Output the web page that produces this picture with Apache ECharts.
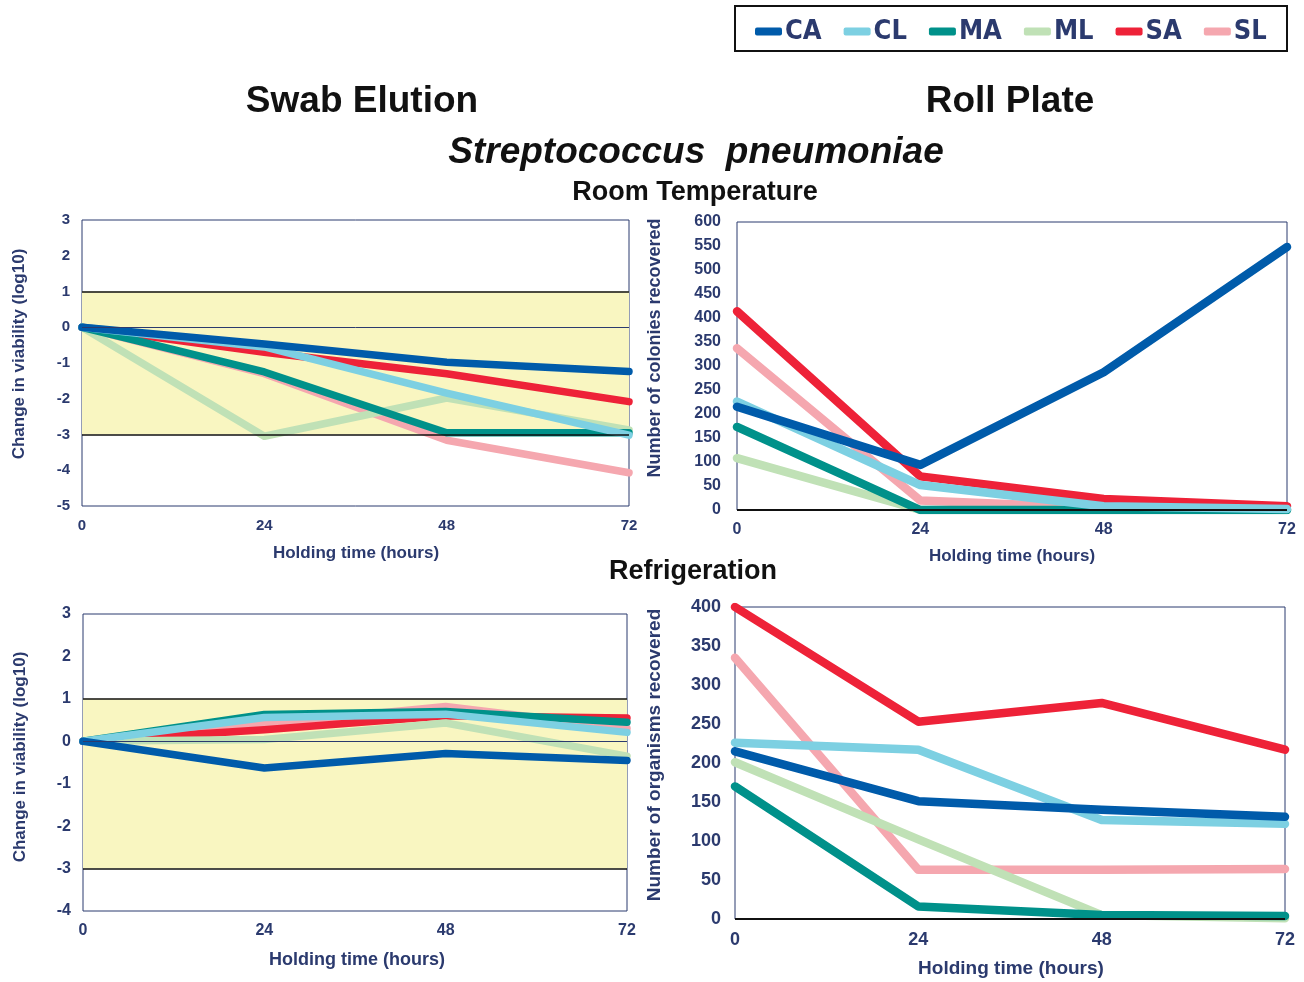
<!DOCTYPE html>
<html><head><meta charset="utf-8">
<script src="https://cdn.jsdelivr.net/npm/echarts@6/dist/echarts.min.js"></script>
<style>html,body{margin:0;background:#fff}#c{width:1304px;height:982px}</style>
</head><body><div id="c"></div>
<script>
// Holding times (hours) shared by every panel
const hours = [0, 24, 48, 72];
const seriesNames = ['CA', 'CL', 'MA', 'ML', 'SA', 'SL'];
const seriesColors = ['#005BAA', '#7DD0E2', '#00918A', '#C0E1B6', '#EE2238', '#F5A7AF'];

// Swab elution, room temperature: change in viability (log10)
const swabRoomCA = [0, -0.47, -0.98, -1.24];
const swabRoomCL = [0, -0.55, -1.84, -3.02];
const swabRoomMA = [0, -1.25, -2.95, -2.95];
const swabRoomML = [0, -3.05, -1.98, -2.87];
const swabRoomSA = [0, -0.70, -1.30, -2.08];
const swabRoomSL = [0, -1.30, -3.16, -4.07];

// Roll plate, room temperature: colonies recovered
const rollRoomCA = [215, 94, 287, 548];
const rollRoomCL = [226, 52, 8, 2];
const rollRoomMA = [173, 0, 0, 0];
const rollRoomML = [108, 0, 0, 0];
const rollRoomSA = [414, 70, 23, 8];
const rollRoomSL = [337, 20, 4, 1];

// Swab elution, refrigeration: change in viability (log10)
const swabFridgeCA = [0, -0.63, -0.29, -0.45];
const swabFridgeCL = [0, 0.56, 0.64, 0.21];
const swabFridgeMA = [0, 0.63, 0.70, 0.45];
const swabFridgeML = [0, 0.04, 0.43, -0.35];
const swabFridgeSA = [0, 0.27, 0.60, 0.55];
const swabFridgeSL = [0, 0.40, 0.82, 0.30];

// Roll plate, refrigeration: organisms recovered
const rollFridgeCA = [215, 151, 140, 131];
const rollFridgeCL = [226, 217, 127, 122];
const rollFridgeMA = [170, 16, 5, 4];
const rollFridgeML = [201, 102, 5, 1];
const rollFridgeSA = [400, 253, 277, 217];
const rollFridgeSL = [335, 63, 63, 64];

// Axis tick settings
const swabRoomTicks = {min: -5, max: 3, interval: 1};
const swabFridgeTicks = {min: -4, max: 3, interval: 1};
const rollRoomTicks = {min: 0, max: 600, interval: 50};
const rollFridgeTicks = {min: 0, max: 400, interval: 50};
const hourTicks = {min: 0, max: 72, interval: 24};

const NAVY = '#2B3A6E';
const FONT = '"Liberation Sans", Arial, sans-serif';

const panels = [
  {grid: {left: 82, top: 220, width: 547, height: 286}, ticks: swabRoomTicks, band: true,
   data: [swabRoomCA, swabRoomCL, swabRoomMA, swabRoomML, swabRoomSA, swabRoomSL],
   yName: 'Change in viability (log10)', yNameSize: 17, yNamePos: [19, 354],
   xName: 'Holding time (hours)', xNameSize: 17, xNamePos: [356, 553], tickSize: 15, yMargin: 12, lineW: 7.5},
  {grid: {left: 737, top: 222, width: 550, height: 288}, ticks: rollRoomTicks, band: false,
   data: [rollRoomCA, rollRoomCL, rollRoomMA, rollRoomML, rollRoomSA, rollRoomSL],
   yName: 'Number of colonies recovered', yNameSize: 18, yNamePos: [655, 348],
   xName: 'Holding time (hours)', xNameSize: 17, xNamePos: [1012, 556], tickSize: 16, yMargin: 16, lineW: 8.5},
  {grid: {left: 83, top: 614, width: 544, height: 297}, ticks: swabFridgeTicks, band: true,
   data: [swabFridgeCA, swabFridgeCL, swabFridgeMA, swabFridgeML, swabFridgeSA, swabFridgeSL],
   yName: 'Change in viability (log10)', yNameSize: 17, yNamePos: [20, 757],
   xName: 'Holding time (hours)', xNameSize: 18, xNamePos: [357, 960], tickSize: 16, yMargin: 12, lineW: 7.5},
  {grid: {left: 735, top: 607, width: 550, height: 312}, ticks: rollFridgeTicks, band: false,
   data: [rollFridgeCA, rollFridgeCL, rollFridgeMA, rollFridgeML, rollFridgeSA, rollFridgeSL],
   yName: 'Number of organisms recovered', yNameSize: 19, yNamePos: [655, 755],
   xName: 'Holding time (hours)', xNameSize: 19, xNamePos: [1011, 969], tickSize: 18, yMargin: 14, lineW: 8.5}
];

const grids = [], xAxes = [], yAxes = [], series = [], axisNames = [];

panels.forEach((p, gi) => {
  grids.push(Object.assign({show: true, borderColor: NAVY, borderWidth: 1, backgroundColor: 'transparent'}, p.grid));
  const tickLabel = {color: NAVY, fontWeight: 'bold', fontFamily: FONT, fontSize: p.tickSize};
  xAxes.push({
    gridIndex: gi, type: 'value', min: hourTicks.min, max: hourTicks.max, interval: hourTicks.interval,
    axisLine: {show: false}, axisTick: {show: false}, splitLine: {show: false},
    axisLabel: Object.assign({margin: 12}, tickLabel)
  });
  yAxes.push({
    gridIndex: gi, type: 'value', min: p.ticks.min, max: p.ticks.max, interval: p.ticks.interval,
    axisLine: {show: false}, axisTick: {show: false}, splitLine: {show: false},
    axisLabel: Object.assign({margin: p.yMargin}, tickLabel)
  });

  axisNames.push({
    type: 'text', x: p.yNamePos[0], y: p.yNamePos[1], rotation: Math.PI / 2, silent: true,
    style: {text: p.yName, fill: NAVY, textAlign: 'center', textVerticalAlign: 'middle',
      font: 'bold ' + p.yNameSize + 'px ' + FONT}
  });
  axisNames.push({
    type: 'text', x: p.xNamePos[0], y: p.xNamePos[1], silent: true,
    style: {text: p.xName, fill: NAVY, textAlign: 'center', textVerticalAlign: 'middle',
      font: 'bold ' + p.xNameSize + 'px ' + FONT}
  });

  // Reference band and guide lines behind the data
  const guide = {
    type: 'line', xAxisIndex: gi, yAxisIndex: gi, data: [], silent: true, z: 1
  };
  if (p.band) {
    guide.markArea = {silent: true, itemStyle: {color: '#F9F6C1'},
      data: [[{yAxis: 1}, {yAxis: -3}]]};
    guide.markLine = {silent: true, symbol: 'none', label: {show: false},
      data: [
        {yAxis: 1, lineStyle: {color: '#111', width: 1.5, type: 'solid'}},
        {yAxis: -3, lineStyle: {color: '#111', width: 1.5, type: 'solid'}},
        {yAxis: 0, lineStyle: {color: NAVY, width: 1, type: 'solid'}}
      ]};
  } else {
    guide.markLine = {silent: true, symbol: 'none', label: {show: false},
      data: [{yAxis: 0, lineStyle: {color: '#111', width: 2, type: 'solid'}}]};
  }
  series.push(guide);

  // Draw from last to first so CA ends on top
  for (let k = seriesNames.length - 1; k >= 0; k--) {
    series.push({
      type: 'line', name: seriesNames[k], xAxisIndex: gi, yAxisIndex: gi, z: 3,
      data: hours.map((h, i) => [h, p.data[k][i]]),
      showSymbol: false, symbol: 'none', color: seriesColors[k],
      lineStyle: {width: p.lineW, color: seriesColors[k], cap: 'round', join: 'round'},
      emphasis: {disabled: true}, animation: false
    });
  }
});

function label(text, x, y, size, opts) {
  return {
    type: 'text', x: x, y: y, silent: true,
    style: Object.assign({text: text, fill: '#111', textAlign: 'center', textVerticalAlign: 'middle',
      font: 'bold ' + size + 'px ' + FONT}, opts || {})
  };
}

const chart = echarts.init(document.getElementById('c'), null, {renderer: 'canvas'});
chart.setOption({
  animation: false,
  backgroundColor: '#fff',
  color: seriesColors,
  grid: grids, xAxis: xAxes, yAxis: yAxes, series: series,
  legend: {
    data: seriesNames, left: 750, top: 13, itemWidth: 27, itemHeight: 8, itemGap: 22,
    icon: 'roundRect', selectedMode: false,
    textStyle: {color: NAVY, fontWeight: 'bold', fontSize: 27, padding: [0, 0, 0, -2],
      fontFamily: '"Liberation Sans Narrow", "Arial Narrow", "DejaVu Sans Condensed", sans-serif'}
  },
  graphic: axisNames.concat([
    {type: 'rect', shape: {x: 735, y: 6, width: 552, height: 45}, silent: true,
     style: {fill: 'none', stroke: '#111', lineWidth: 2}},
    label('Swabs:', 54, -8, 28),
    label('Swab Elution', 362, 102, 37),
    label('Roll Plate', 1010, 102, 37),
    label('Streptococcus  pneumoniae', 696, 153, 37, {font: 'italic bold 37px ' + FONT}),
    label('Room Temperature', 695, 193, 27),
    label('Refrigeration', 693, 572, 27)
  ])
});
</script></body></html>
